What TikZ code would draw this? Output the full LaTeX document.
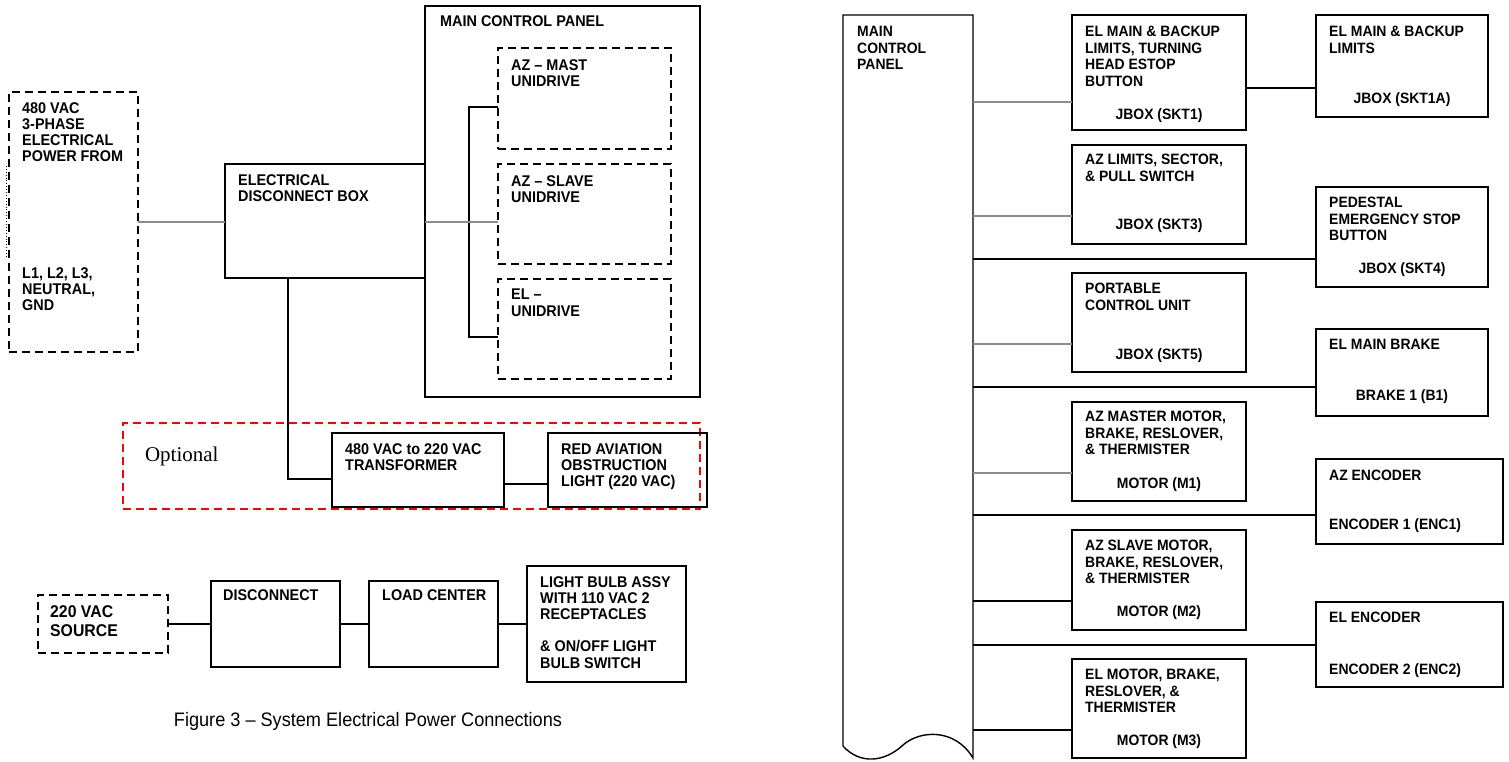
\documentclass[tikz,border=0pt]{standalone}
\usepackage{fontspec}
\usetikzlibrary{fit}
\newfontfamily\lbf[FakeStretch=0.93,Ligatures=TeX]{Liberation Sans}
\newfontfamily\tmsf[Ligatures=TeX]{Liberation Serif}
\begin{document}
\begin{tikzpicture}[x=1pt,y=-1pt,
  box/.style={draw, line width=1.4pt, inner sep=0pt, outer sep=0pt},
  dbox/.style={box, dash pattern=on 8pt off 5pt},
  rbox/.style={box, draw=red, dash pattern=on 8pt off 5pt},
  ghost/.style={inner sep=0pt, outer sep=0pt},
  conn/.style={line width=1.3pt},
  gconn/.style={line width=1.5pt, draw=black!45},
  lt/.style={font=\lbf\bfseries\fontsize{15.5}{16.2}\selectfont, align=left, inner sep=0pt, anchor=north west},
  rt/.style={font=\lbf\bfseries\fontsize{15}{16.5}\selectfont, align=left, inner sep=0pt, anchor=north west},
  rc/.style={rt, anchor=north, align=center},
  big/.style={font=\lbf\bfseries\fontsize{17}{19}\selectfont, align=left, inner sep=0pt, anchor=north west}
]
\useasboundingbox[fill=white] (0,0) rectangle (1509,762);

% ---------------- LEFT: power connections ----------------
\node[dbox, fit={(9,92) (138,352)}] (src) {};
\node[lt] (srct1) at (22,102) {480 VAC\\3-PHASE\\ELECTRICAL\\POWER FROM};
\node[lt] (srct2) at (22,267) {L1, L2, L3,\\NEUTRAL,\\GND};
\coordinate (dt1) at (6,166);
\coordinate (dt2) at (6,258);
\draw[line width=0.9pt, dotted] (dt1) -- (dt2);

\node[box, fit={(225,164) (425,278)}] (edb) {};
\node[lt] (edbt) at (238,174) {ELECTRICAL\\DISCONNECT BOX};

\node[box, fit={(425,6) (700,397)}] (mcp) {};
\node[lt] (mcpt) at (440,15) {MAIN CONTROL PANEL};

\node[dbox, fit={(498,48) (671,149)}] (azm) {};
\node[lt] (azmt) at (511,59) {AZ – MAST\\UNIDRIVE};
\node[dbox, fit={(498,164) (671,264)}] (azs) {};
\node[lt] (azst) at (511,175) {AZ – SLAVE\\UNIDRIVE};
\node[dbox, fit={(498,279) (671,379)}] (eld) {};
\node[lt] (eldt) at (511,289) {EL –\\UNIDRIVE};

\draw[conn] (azm.west |- 0,107) -| (469,337) -- (eld.west |- 0,337);
\draw[gconn] (src.east |- 0,222) -- (edb.west |- 0,222);
\draw[gconn] (edb.east |- 0,222) -- (azs.west |- 0,222);

\node[rbox, fit={(123,423) (700,509)}] (opt) {};
\node[ghost, anchor=base west, font=\tmsf\fontsize{21}{24}\selectfont] (optt) at (145,461) {Optional};

\node[box, fit={(332,433) (504,507)}] (tr) {};
\node[lt] (trt) at (345,443) {480 VAC to 220 VAC\\TRANSFORMER};
\node[box, fit={(548,433) (707,507)}] (ral) {};
\node[lt] (ralt) at (561,443) {RED AVIATION\\OBSTRUCTION\\LIGHT (220 VAC)};

\draw[conn] (edb.south -| 288,0) |- (tr.west |- 0,479);
\draw[conn] (tr.east |- 0,484) -- (ral.west |- 0,484);

\node[dbox, fit={(38,595) (168,653)}] (s220) {};
\node[big] (s220t) at (50,605) {220 VAC\\SOURCE};
\node[box, fit={(211,581) (340,667)}] (dis) {};
\node[lt] (dist) at (223,589) {DISCONNECT};
\node[box, fit={(369,581) (498,667)}] (lc) {};
\node[lt] (lct) at (382,589) {LOAD CENTER};
\node[box, fit={(527,566) (686,682)}] (lba) {};
\node[lt] (lbat) at (540,576) {LIGHT BULB ASSY\\WITH 110 VAC 2\\RECEPTACLES\\[16.2pt]\& ON/OFF LIGHT\\BULB SWITCH};

\draw[conn] (s220.east |- 0,624) -- (dis.west |- 0,624);
\draw[conn] (dis.east |- 0,624) -- (lc.west |- 0,624);
\draw[conn] (lc.east |- 0,624) -- (lba.west |- 0,624);

\node[ghost, anchor=base, font=\lbf\fontsize{19.5}{21}\selectfont] (cap) at (368,726) {Figure 3 – System Electrical Power Connections};

% ---------------- RIGHT: control panel connections ----------------
\node[ghost, fit={(843,15) (973,758)}] (rmcp) {};
\draw[box] (843,746) -- (rmcp.north west) -- (rmcp.north east) -- (rmcp.south east)
  .. controls (955,728) and (920,730) .. (903,745)
  .. controls (885,762) and (860,765) .. (843,746);
\node[rt] (rmcpt) at (857,26) {MAIN\\CONTROL\\PANEL};

% middle column
\node[box, fit={(1072,15) (1246,130)}] (m1) {};
\node[rt] (m1t) at (1085,26) {EL MAIN \& BACKUP\\LIMITS, TURNING\\HEAD ESTOP\\BUTTON};
\node[rc] (m1b) at (1159,108) {JBOX (SKT1)};

\node[box, fit={(1072,145) (1246,244)}] (m2) {};
\node[rt] (m2t) at (1085,154) {AZ LIMITS, SECTOR,\\\& PULL SWITCH};
\node[rc] (m2b) at (1159,218) {JBOX (SKT3)};

\node[box, fit={(1072,273) (1246,372)}] (m3) {};
\node[rt] (m3t) at (1085,283) {PORTABLE\\CONTROL UNIT};
\node[rc] (m3b) at (1159,348) {JBOX (SKT5)};

\node[box, fit={(1072,402) (1246,501)}] (m4) {};
\node[rt] (m4t) at (1085,411) {AZ MASTER MOTOR,\\BRAKE, RESLOVER,\\\& THERMISTER};
\node[rc] (m4b) at (1159,477) {MOTOR (M1)};

\node[box, fit={(1072,530) (1246,630)}] (m5) {};
\node[rt] (m5t) at (1085,540) {AZ SLAVE MOTOR,\\BRAKE, RESLOVER,\\\& THERMISTER};
\node[rc] (m5b) at (1159,605) {MOTOR (M2)};

\node[box, fit={(1072,659) (1246,758)}] (m6) {};
\node[rt] (m6t) at (1085,669) {EL MOTOR, BRAKE,\\RESLOVER, \&\\THERMISTER};
\node[rc] (m6b) at (1159,734) {MOTOR (M3)};

% right column
\node[box, fit={(1316,15) (1488,117)}] (r1) {};
\node[rt] (r1t) at (1329,26) {EL MAIN \& BACKUP\\LIMITS};
\node[rc] (r1b) at (1402,92) {JBOX (SKT1A)};

\node[box, fit={(1316,187) (1488,287)}] (r2) {};
\node[rt] (r2t) at (1329,197) {PEDESTAL\\EMERGENCY STOP\\BUTTON};
\node[rc] (r2b) at (1402,262) {JBOX (SKT4)};

\node[box, fit={(1316,329) (1488,416)}] (r3) {};
\node[rt] (r3t) at (1329,339) {EL MAIN BRAKE};
\node[rc] (r3b) at (1402,389) {BRAKE 1 (B1)};

\node[box, fit={(1316,459) (1503,544)}] (r4) {};
\node[rt] (r4t) at (1329,470) {AZ ENCODER};
\node[rt] (r4b) at (1329,518) {ENCODER 1 (ENC1)};

\node[box, fit={(1316,602) (1503,687)}] (r5) {};
\node[rt] (r5t) at (1329,612) {EL ENCODER};
\node[rt] (r5b) at (1329,663) {ENCODER 2 (ENC2)};

% connectors
\draw[gconn] (rmcp.east |- 0,102) -- (m1.west |- 0,102);
\draw[gconn] (rmcp.east |- 0,216) -- (m2.west |- 0,216);
\draw[gconn] (rmcp.east |- 0,344) -- (m3.west |- 0,344);
\draw[gconn] (rmcp.east |- 0,473) -- (m4.west |- 0,473);
\draw[conn] (rmcp.east |- 0,601) -- (m5.west |- 0,601);
\draw[conn] (rmcp.east |- 0,730) -- (m6.west |- 0,730);
\draw[conn] (m1.east |- 0,88) -- (r1.west |- 0,88);
\draw[conn] (rmcp.east |- 0,259) -- (r2.west |- 0,259);
\draw[conn] (rmcp.east |- 0,387) -- (r3.west |- 0,387);
\draw[conn] (rmcp.east |- 0,515) -- (r4.west |- 0,515);
\draw[conn] (rmcp.east |- 0,645) -- (r5.west |- 0,645);
\end{tikzpicture}
\end{document}
